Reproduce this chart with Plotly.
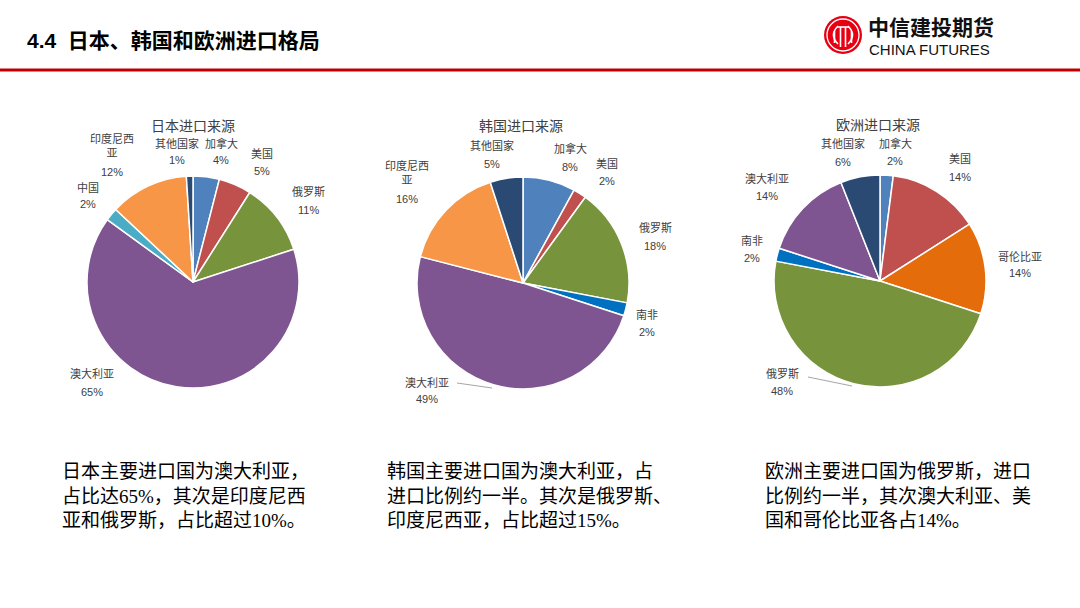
import plotly.graph_objects as go

W, H = 1080, 608

# ---------------- data ----------------
titles = ["日本进口来源", "韩国进口来源", "欧洲进口来源"]

jp_labels = ["加拿大", "美国", "俄罗斯", "澳大利亚", "中国", "印度尼西亚", "其他国家"]
jp_values = [4, 5, 11, 65, 2, 12, 1]

kr_labels = ["加拿大", "美国", "俄罗斯", "南非", "澳大利亚", "印度尼西亚", "其他国家"]
kr_values = [8, 2, 18, 2, 49, 16, 5]

eu_labels = ["加拿大", "美国", "哥伦比亚", "俄罗斯", "南非", "澳大利亚", "其他国家"]
eu_values = [2, 14, 14, 48, 2, 14, 6]

header = "4.4  日本、韩国和欧洲进口格局"
notes = [
    "日本主要进口国为澳大利亚，<br>占比达65%，其次是印度尼西<br>亚和俄罗斯，占比超过10%。",
    "韩国主要进口国为澳大利亚，占<br>进口比例约一半。其次是俄罗斯、<br>印度尼西亚，占比超过15%。",
    "欧洲主要进口国为俄罗斯，进口<br>比例约一半，其次澳大利亚、美<br>国和哥伦比亚各占14%。",
]

# ---------------- styles ----------------
color_map = {
    "加拿大": "#4F81BD",
    "美国": "#C0504D",
    "俄罗斯": "#77933C",
    "澳大利亚": "#7F5591",
    "中国": "#4BACC6",
    "印度尼西亚": "#F79646",
    "其他国家": "#2A4A74",
    "南非": "#0070C0",
    "哥伦比亚": "#E46C0A",
}
wrap = {"印度尼西亚": "印度尼西<br>亚"}

# pie centers / radius (pixels)
pies = [(193, 282, 106), (523, 283, 106), (880, 281, 106)]
title_pos = [(193, 125), (521, 125), (878, 124)]

# label positions: (x, y_name, y_pct) in pixels, in same order as labels
jp_pos = [(221, 143, 160), (262, 153, 171), (308, 191, 210), (92, 373, 392),
          (88, 187, 204), (112, 145, 172), (177, 143, 160)]
kr_pos = [(570, 148, 167), (607, 163, 181), (655, 227, 246), (647, 314, 332),
          (427, 382, 399), (407, 172, 199), (492, 145, 164)]
eu_pos = [(895, 143, 161), (960, 158, 177), (1020, 256, 273), (782, 373, 391),
          (752, 240, 258), (767, 178, 196), (843, 143, 162)]
leaders = [None, ((457, 383), (492, 388)), ((808, 377), (852, 386))]
note_pos = [(60, 459), (385, 459), (763, 459)]

LBL_FONT = "Liberation Sans, Noto Sans CJK SC, sans-serif"
CJK_FONT = "Noto Sans CJK SC, sans-serif"
TXT_COLOR = "#404040"

fig = go.Figure()
# invisible cartesian trace so pixel-based axes exist for shapes/annotations
fig.add_trace(go.Scatter(x=[], y=[], showlegend=False, hoverinfo="skip"))

datasets = [(jp_labels, jp_values, jp_pos), (kr_labels, kr_values, kr_pos),
            (eu_labels, eu_values, eu_pos)]

annotations = []
shapes = []

for i, (labels, values, pos) in enumerate(datasets):
    cx, cy, r = pies[i]
    fig.add_trace(go.Pie(
        labels=labels, values=values, sort=False, direction="clockwise",
        rotation=0, textinfo="none", hoverinfo="label+percent",
        marker=dict(colors=[color_map[l] for l in labels],
                    line=dict(color="white", width=1.5)),
        domain=dict(x=[(cx - r) / W, (cx + r) / W],
                    y=[1 - (cy + r) / H, 1 - (cy - r) / H]),
        showlegend=False,
    ))
    total = sum(values)
    for lab, val, (x, yn, yp) in zip(labels, values, pos):
        annotations.append(dict(x=x, y=yn, xref="x", yref="y", showarrow=False,
                                text=wrap.get(lab, lab), xanchor="center", yanchor="middle",
                                font=dict(family=CJK_FONT, size=11, color=TXT_COLOR)))
        annotations.append(dict(x=x, y=yp, xref="x", yref="y", showarrow=False,
                                text=f"{val / total * 100:.0f}%", xanchor="center",
                                yanchor="middle",
                                font=dict(family=LBL_FONT, size=11, color=TXT_COLOR)))
    tx, ty = title_pos[i]
    annotations.append(dict(x=tx, y=ty, xref="x", yref="y", showarrow=False,
                            text=titles[i], xanchor="center", yanchor="middle",
                            font=dict(family=CJK_FONT, size=14, color=TXT_COLOR)))
    if leaders[i]:
        (x0, y0), (x1, y1) = leaders[i]
        shapes.append(dict(type="line", xref="x", yref="y", x0=x0, y0=y0, x1=x1, y1=y1,
                           line=dict(color="#A6A6A6", width=1)))
    nx, ny = note_pos[i]
    annotations.append(dict(x=nx, y=ny, xref="x", yref="y", showarrow=False,
                            text=notes[i], xanchor="left", yanchor="top", align="left",
                            font=dict(family="Liberation Serif, Noto Sans CJK SC, serif",
                                      size=19, color="#000000")))

# header
annotations.append(dict(x=25, y=40, xref="x", yref="y", showarrow=False,
                        text=f"<b>{header}</b>", xanchor="left", yanchor="middle",
                        font=dict(family="Liberation Sans, Noto Sans CJK SC", size=21,
                                  color="#000000")))
shapes.append(dict(type="line", xref="x", yref="y", x0=0, x1=W, y0=70, y1=70,
                   line=dict(color="#C00000", width=3)))

# logo
lx, ly, lr = 843, 35, 19
shapes.append(dict(type="circle", xref="x", yref="y", x0=lx - lr, x1=lx + lr,
                   y0=ly - lr, y1=ly + lr, fillcolor="#E60012", line=dict(width=0)))
shapes.append(dict(type="circle", xref="x", yref="y", x0=lx - 16, x1=lx + 16,
                   y0=ly - 16, y1=ly + 16, fillcolor="rgba(0,0,0,0)",
                   line=dict(color="white", width=1.3)))
logo_paths = [
    f"M {lx-5},{ly-9} Q {lx-14},{ly} {lx-5},{ly+9}",
    f"M {lx+5},{ly-9} Q {lx+14},{ly} {lx+5},{ly+9}",
    f"M {lx-6},{ly-8} L {lx+6},{ly-8}",
    f"M {lx-2.5},{ly-8} L {lx-2.5},{ly+12}",
    f"M {lx+2.5},{ly-8} L {lx+2.5},{ly+12}",
    f"M {lx-8.5},{ly-4} L {lx-8.5},{ly+8}",
    f"M {lx+8.5},{ly-4} L {lx+8.5},{ly+8}",
]
for p in logo_paths:
    shapes.append(dict(type="path", xref="x", yref="y", path=p,
                       line=dict(color="white", width=1.6)))
annotations.append(dict(x=867, y=26, xref="x", yref="y", showarrow=False, borderpad=0,
                        text="<b>中信建投期货</b>", xanchor="left", yanchor="middle",
                        font=dict(family=CJK_FONT, size=21, color="#111111")))
annotations.append(dict(x=868, y=49, xref="x", yref="y", showarrow=False, borderpad=0,
                        text="CHINA FUTURES", xanchor="left", yanchor="middle",
                        font=dict(family="Liberation Sans, Arial", size=15, color="#111111")))

fig.update_layout(
    width=W, height=H,
    margin=dict(l=0, r=0, t=0, b=0),
    paper_bgcolor="white", plot_bgcolor="white",
    xaxis=dict(range=[0, W], visible=False, domain=[0, 1], fixedrange=True),
    yaxis=dict(range=[H, 0], visible=False, domain=[0, 1], fixedrange=True),
    annotations=annotations,
    shapes=shapes,
    showlegend=False,
)

fig.write_html("out.html", config={"displayModeBar": False},
               post_script="document.body.style.margin='0';")
